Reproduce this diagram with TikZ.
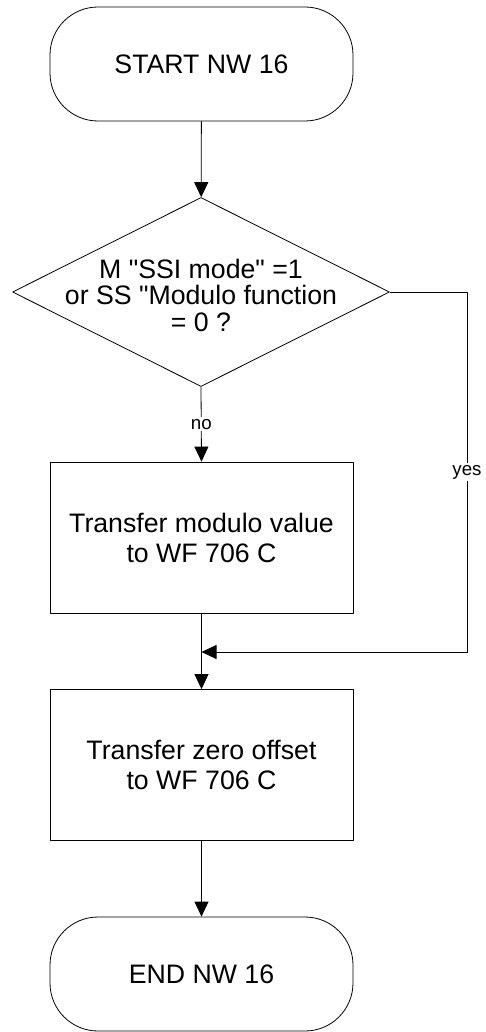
\documentclass[tikz,border=0pt]{standalone}
\usepackage{fontspec}
\setmainfont{Liberation Sans}[Ligatures=TeXOff]
\usetikzlibrary{shapes.geometric,arrows.meta}
\tikzset{
  term/.style={draw, rectangle, rounded corners=48pt, minimum width=303pt, minimum height=114pt, font=\fontsize{26.7}{30}\selectfont},
  proc/.style={draw, rectangle, minimum width=303pt, minimum height=151pt, align=center, font=\fontsize{26.7}{30}\selectfont},
  decbox/.style={draw, diamond, minimum width=377pt, minimum height=189pt, inner sep=0pt},
  dectext/.style={align=center, font=\fontsize{26.7}{26.5}\selectfont},
  lbl/.style={fill=white, inner sep=2pt, font=\fontsize{18.7}{20}\selectfont},
  arr/.style={-{Triangle[length=15pt,width=14pt]}},
}
\begin{document}
\begin{tikzpicture}[x=1pt, y=-1pt, line width=0.8pt, line join=round]
		\useasboundingbox (0,0) rectangle (485,1032);
		\coordinate (j) at (201.5,652);
		\coordinate (yt) at (467,292);
		\coordinate (yb) at (467,652);
		\node[term] (start) at (201.5,64) {START NW 16};
		\node[decbox] (dec) at (201,292) {};
		\node[dectext] (dectxt) at (201,295) {M "SSI mode" =1\\or SS "Modulo function\\= 0 ?};
		\node[proc] (modval) at (201.5,537.5) {Transfer modulo value\\to WF 706 C};
		\node[proc] (zero) at (201.5,765) {Transfer zero offset\\to WF 706 C};
		\node[term] (end) at (201.5,974) {END NW 16};
		\draw[arr] (start) -- (dec);
		\draw[arr] (dec.south) -- node[lbl] (no) {no} (modval.north);
		\draw[arr] (modval) -- (zero);
		\draw[arr] (dec.east) -- (yt) -- node[lbl] (yes) {yes} (yb) -- (j);
		\draw[arr] (zero) -- (end);
\end{tikzpicture}
\end{document}
